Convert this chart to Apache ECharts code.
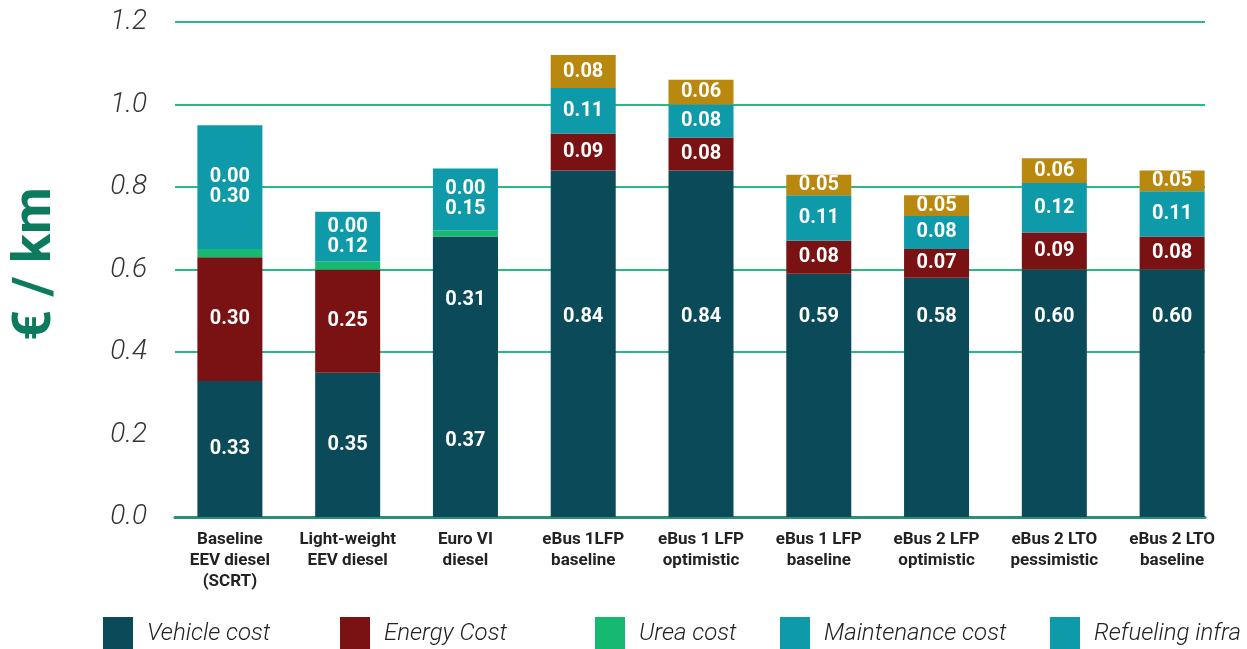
<!DOCTYPE html>
<html>
<head>
<meta charset="utf-8">
<script src="https://cdn.jsdelivr.net/npm/echarts@6/dist/echarts.min.js"></script>
<style>
  html, body { margin: 0; padding: 0; background: #ffffff; }
  #chart { width: 1247px; height: 649px; }
</style>
</head>
<body>
<div id="chart"></div>
<script>
// Cost per km by bus technology, stacked by cost component (€/km)
const categories = [
  'Baseline\nEEV diesel\n(SCRT)',
  'Light-weight\nEEV diesel',
  'Euro VI\ndiesel',
  'eBus 1LFP\nbaseline',
  'eBus 1 LFP\noptimistic',
  'eBus 1 LFP\nbaseline',
  'eBus 2 LFP\noptimistic',
  'eBus 2 LTO\npessimistic',
  'eBus 2 LTO\nbaseline'
];
const vehicleCost     = [0.33, 0.35, 0.37, 0.84, 0.84, 0.59, 0.58, 0.60, 0.60];
const energyCost      = [0.30, 0.25, 0.31, 0.09, 0.08, 0.08, 0.07, 0.09, 0.08];
const ureaCost        = [0.02, 0.02, 0.015, 0, 0, 0, 0, 0, 0];
const maintenanceCost = [0.30, 0.12, 0.15, 0.11, 0.08, 0.11, 0.08, 0.12, 0.11];
const refuelingInfra  = [0.00, 0.00, 0.00, 0.08, 0.06, 0.05, 0.05, 0.06, 0.05];

const yTicks = [0.0, 0.2, 0.4, 0.6, 0.8, 1.0, 1.2];
const legendNames = ['Vehicle cost', 'Energy Cost', 'Urea cost', 'Maintenance cost', 'Refueling infra'];

// layout and styling
const FONT = 'Roboto';
const C_VEHICLE = '#0b4a59';
const C_ENERGY = '#7a1112';
const C_UREA = '#16b872';
const C_MAINT = '#0e9aa8';
const C_INFRA = '#b8880f';
const C_GRID = '#27bb80';
const CHART_H = 649;
const GRID_TOP = 22;
const GRID_BOTTOM = 132;
const Y_MIN = yTicks[0];
const Y_MAX = yTicks[yTicks.length - 1];
const pxPerUnit = (CHART_H - GRID_TOP - GRID_BOTTOM) / (Y_MAX - Y_MIN);
const dieselCount = 3;                 // first three bars are diesel buses
const euroVIIndex = 2;                 // its energy share is drawn in the vehicle colour
const eBusVehicleLabelLevel = 0.485;   // value level at which eBus vehicle labels sit
const stackedLabelSpread = 10;         // px: zero infra label and maintenance label sit either side of the segment centre

const fmt2 = v => Number(v).toFixed(2);

const barLabel = {
  show: true,
  position: 'inside',
  color: '#ffffff',
  fontFamily: FONT,
  fontWeight: 'bold',
  fontSize: 20,
  formatter: p => fmt2(p.value)
};

const vehicleData = vehicleCost.map((v, i) => {
  if (i < dieselCount) return v;
  const pct = (1 - eBusVehicleLabelLevel / v) * 100;
  return { value: v, label: { position: ['50%', pct + '%'], align: 'center', verticalAlign: 'middle' } };
});

// a 1px same-colour shadow closes the seam with the vehicle block below
const energyData = energyCost.map((v, i) => i === euroVIIndex
  ? { value: v, itemStyle: { color: C_VEHICLE, shadowColor: C_VEHICLE, shadowBlur: 0, shadowOffsetY: 1 } }
  : v);

const maintenanceData = maintenanceCost.map((v, i) => i < dieselCount && refuelingInfra[i] === 0
  ? { value: v, label: { offset: [0, stackedLabelSpread] } }
  : v);

const infraData = refuelingInfra.map((v, i) => v === 0
  ? { value: v, label: { offset: [0, maintenanceCost[i] / 2 * pxPerUnit - stackedLabelSpread] } }
  : v);

const BAR_W = 65;

const option = {
  animation: false,
  backgroundColor: '#ffffff',
  grid: [
    { left: 171, right: 16, top: GRID_TOP, bottom: GRID_BOTTOM },
    { left: 175, right: 42, top: GRID_TOP, bottom: GRID_BOTTOM }
  ],
  xAxis: [
    {
      type: 'category', gridIndex: 0, data: categories,
      axisLine: { show: false }, axisTick: { show: false },
      axisLabel: {
        interval: 0, margin: 12, color: '#222222', fontFamily: FONT,
        fontWeight: 'bold', fontSize: 17, lineHeight: 21
      }
    },
    {
      type: 'value', gridIndex: 1, min: 0, max: 1,
      axisLine: { show: true, lineStyle: { color: '#2a8f78', width: 3 } },
      axisTick: { show: false }, axisLabel: { show: false }, splitLine: { show: false }
    }
  ],
  yAxis: [
    { type: 'value', gridIndex: 0, min: Y_MIN, max: Y_MAX, interval: 0.2, show: false },
    {
      type: 'value', gridIndex: 1, min: Y_MIN, max: Y_MAX, interval: 0.2,
      name: '€ / km', nameLocation: 'middle', nameGap: 112,
      nameTextStyle: {
        color: '#0c7a5c', fontFamily: FONT, fontWeight: 'bold', fontSize: 54,
        padding: [0, 0, 0, 11]
      },
      axisLine: { show: false }, axisTick: { show: false },
      axisLabel: {
        margin: 28, color: '#333333', fontFamily: FONT, fontWeight: 300,
        fontStyle: 'italic', fontSize: 28, formatter: v => v.toFixed(1)
      },
      splitLine: {
        show: true,
        lineStyle: { width: 2, color: ['rgba(0,0,0,0)', 'rgba(0,0,0,0)', C_GRID, C_GRID, C_GRID, C_GRID, C_GRID] }
      }
    }
  ],
  legend: legendNames.map((name, i) => ({
    left: [103, 340, 595, 780, 1050][i],
    top: 617,
    padding: 0,
    icon: 'rect',
    itemWidth: 30,
    itemHeight: 34,
    selectedMode: false,
    data: [name === 'Refueling infra' ? { name, itemStyle: { color: C_MAINT } } : name],
    textStyle: {
      color: '#222222', fontFamily: FONT, fontStyle: 'italic', fontWeight: 300,
      fontSize: 24, padding: [0, 0, 0, 9]
    }
  })),
  series: [
    {
      name: 'Vehicle cost', type: 'bar', stack: 'cost', barWidth: BAR_W,
      xAxisIndex: 0, yAxisIndex: 0,
      itemStyle: { color: C_VEHICLE },
      label: barLabel,
      data: vehicleData
    },
    {
      name: 'Energy Cost', type: 'bar', stack: 'cost', barWidth: BAR_W,
      xAxisIndex: 0, yAxisIndex: 0,
      itemStyle: { color: C_ENERGY },
      label: barLabel,
      data: energyData
    },
    {
      name: 'Urea cost', type: 'bar', stack: 'cost', barWidth: BAR_W,
      xAxisIndex: 0, yAxisIndex: 0,
      itemStyle: { color: C_UREA },
      label: { show: false },
      data: ureaCost
    },
    {
      name: 'Maintenance cost', type: 'bar', stack: 'cost', barWidth: BAR_W,
      xAxisIndex: 0, yAxisIndex: 0,
      itemStyle: { color: C_MAINT },
      label: barLabel,
      data: maintenanceData
    },
    {
      name: 'Refueling infra', type: 'bar', stack: 'cost', barWidth: BAR_W,
      xAxisIndex: 0, yAxisIndex: 0,
      itemStyle: { color: C_INFRA },
      label: barLabel,
      data: infraData
    }
  ]
};

const chart = echarts.init(document.getElementById('chart'), null, { renderer: 'canvas' });
chart.setOption(option);
</script>
</body>
</html>
